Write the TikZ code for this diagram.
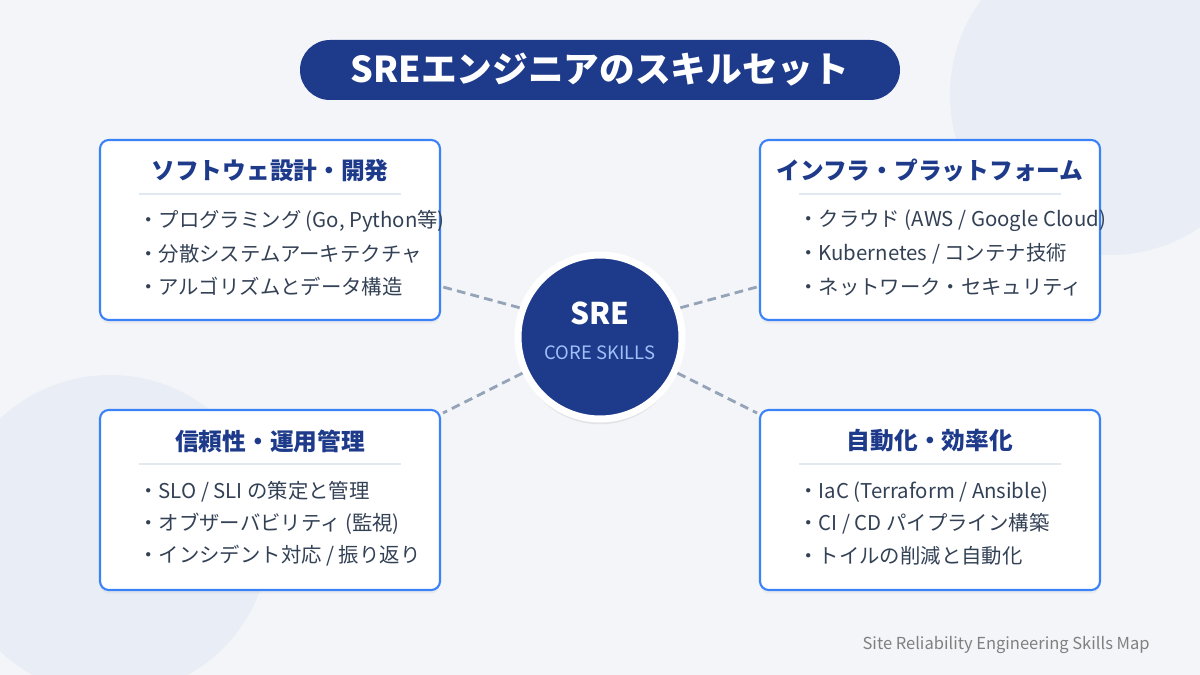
\documentclass[tikz,border=0pt]{standalone}
\usepackage{fontspec}
\setmainfont{Noto Sans CJK JP}
\usetikzlibrary{shadows}
\definecolor{navy}{HTML}{1E3A8A}
\definecolor{bord}{HTML}{3B82F6}
\definecolor{dash}{HTML}{94A3B8}
\definecolor{bg}{HTML}{F3F5F9}
\definecolor{deco}{HTML}{E9EDF5}
\definecolor{sep}{HTML}{E2E8F0}
\definecolor{itm}{HTML}{334155}
\begin{document}
\begin{tikzpicture}[x=0.02cm,y=-0.02cm,
 box/.style={draw=bord,line width=1.2pt,rounded corners=5pt,fill=white,minimum width=340*0.02cm,minimum height=180*0.02cm,drop shadow={opacity=0.08,shadow xshift=0pt,shadow yshift=-2pt}},
 bt/.style={font=\bfseries\fontsize{13.5}{15}\selectfont,text=navy},
 it/.style={font=\fontsize{11.6}{13}\selectfont,text=itm,anchor=west,inner sep=0pt},
 con/.style={draw=dash,line width=1.6pt,dash pattern=on 5pt off 3pt}]
\useasboundingbox (0,0) rectangle (1200,675);
\fill[bg] (0,0) rectangle (1200,675);
\begin{scope}
\clip (0,0) rectangle (1200,675);
\fill[deco] (1110,95) circle (160);
\fill[deco] (110,535) circle (160);
\end{scope}
\node[fill=navy,rounded corners=30*0.02cm,minimum width=600*0.02cm,minimum height=60*0.02cm,text=white,font=\bfseries\fontsize{20.3}{22}\selectfont] (title) at (600,70) {SREエンジニアのスキルセット};
% boxes
\node[box] (tl) at (270,230) {};
\node[box] (tr) at (930,230) {};
\node[box] (bl) at (270,500) {};
\node[box] (br) at (930,500) {};
\foreach \b/\t in {tl/ソフトウェ設計・開発,tr/インフラ・プラットフォーム,bl/信頼性・運用管理,br/自動化・効率化}{
 \node[bt] (\b t) at ([yshift=-32*0.02cm]\b.north) {\t};
 \draw[sep,line width=0.8pt] ([xshift=40*0.02cm,yshift=-55*0.02cm]\b.north west) -- ([xshift=-40*0.02cm,yshift=-55*0.02cm]\b.north east);
}
\node[it] (tl1) at (138,221) {・プログラミング (Go, Python等)};
\node[it] (tl2) at (138,254) {・分散システムアーキテクチャ};
\node[it] (tl3) at (138,287) {・アルゴリズムとデータ構造};
\node[it] (tr1) at (798,221) {・クラウド (AWS / Google Cloud)};
\node[it] (tr2) at (798,254) {・Kubernetes / コンテナ技術};
\node[it] (tr3) at (798,287) {・ネットワーク・セキュリティ};
\node[it] (bl1) at (138,492) {・SLO / SLI の策定と管理};
\node[it] (bl2) at (138,524) {・オブザーバビリティ (監視)};
\node[it] (bl3) at (138,556) {・インシデント対応 / 振り返り};
\node[it] (br1) at (798,492) {・IaC (Terraform / Ansible)};
\node[it] (br2) at (798,524) {・CI / CD パイプライン構築};
\node[it] (br3) at (798,556) {・トイルの削減と自動化};
% connectors
\coordinate (ptl) at (443,287);
\coordinate (ptr) at (757,287);
\coordinate (pbl) at (443,413);
\coordinate (pbr) at (757,413);
\node[circle,fill=navy,draw=white,line width=4pt,minimum size=164*0.02cm,drop shadow={opacity=0.15,shadow xshift=0pt,shadow yshift=-3pt}] (c) at (600,337) {};
\draw[con] (c.160) -- (ptl);
\draw[con] (c.20) -- (ptr);
\draw[con] (c.205) -- (pbl);
\draw[con] (c.335) -- (pbr);
\node[text=white,font=\bfseries\fontsize{17}{19}\selectfont] (sre) at (600,313) {SRE};
\node[text=bord!50!white,font=\fontsize{10.5}{12}\selectfont] (core) at (600,353) {CORE SKILLS};
\node[anchor=east,text=gray,font=\fontsize{9.4}{11}\selectfont,inner sep=0pt] (foot) at (1150,645) {Site Reliability Engineering Skills Map};
\end{tikzpicture}
\end{document}
